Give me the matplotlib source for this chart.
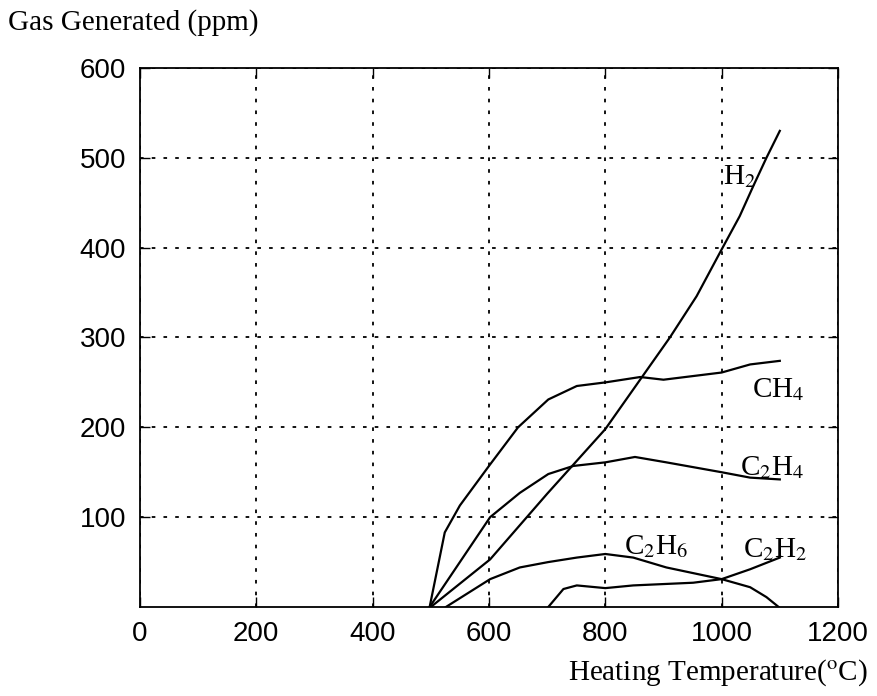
import matplotlib.pyplot as plt

plt.rcParams['mathtext.fontset'] = 'stix'

# gas curves (temperature in C, ppm)
h2_t = [500, 602, 700, 800, 862, 911, 957, 1000, 1031, 1054, 1077, 1100]
h2_v = [0, 53, 126, 198, 255, 300, 346, 398, 435, 468, 500, 530]

ch4_t = [498, 524, 550, 600, 650, 702, 751, 800, 860, 900, 1000, 1049, 1100]
ch4_v = [0, 83, 113, 157, 200, 231, 246, 250, 256, 253, 261, 270, 274]

c2h4_t = [498, 550, 602, 653, 702, 745, 800, 851, 905, 1000, 1049, 1100]
c2h4_v = [0, 50, 100, 127, 148, 157, 161, 167, 161, 150, 144, 142]

c2h6_t = [526, 602, 653, 702, 751, 800, 848, 905, 1000, 1049, 1077, 1098]
c2h6_v = [0, 31, 44, 50, 55, 59, 55, 44, 31, 22, 11, 0]

c2h2_t = [702, 728, 751, 800, 848, 951, 1000, 1049, 1100]
c2h2_v = [0, 20, 24, 21, 24, 27, 31, 42, 55]

labels = ['H$_2$', 'CH$_4$', 'C$_2$H$_4$', 'C$_2$H$_6$', 'C$_2$H$_2$']
label_pos = [(1031, 479), (1097, 242), (1087, 155), (887, 67), (1092, 64)]

fig = plt.figure(figsize=(8.77, 6.96), dpi=100)
ax = fig.add_axes([0.1596, 0.1279, 0.7959, 0.7744])

for t, v in [(h2_t, h2_v), (ch4_t, ch4_v), (c2h4_t, c2h4_v),
             (c2h6_t, c2h6_v), (c2h2_t, c2h2_v)]:
    ax.plot(t, v, color='black', lw=1.6)

for lab, (x, y) in zip(labels, label_pos):
    ax.text(x, y, lab, fontsize=21, family='Liberation Serif',
            ha='center', va='center')

ax.set_xlim(0, 1200)
ax.set_ylim(0, 600)
ax.set_xticks(range(0, 1201, 200))
ax.set_yticks(range(100, 601, 100))
ax.grid(True, color='black', linestyle=(0, (2, 4.5)), linewidth=1.3)
ax.tick_params(direction='in', length=7, width=1, top=True, right=True,
               labelsize=20, pad=10)
for lab in ax.get_xticklabels() + ax.get_yticklabels():
    lab.set_family('Liberation Sans')
for s in ax.spines.values():
    s.set_linewidth(1.3)

fig.text(0.009, 0.968, 'Gas Generated (ppm)', fontsize=21,
         family='Liberation Serif', ha='left', va='center')
fig.text(0.99, 0.034, r'Heating Temperature($^{\rm o}$C)', fontsize=21,
         family='Liberation Serif', ha='right', va='center')

fig.savefig('out.png', dpi=100)
